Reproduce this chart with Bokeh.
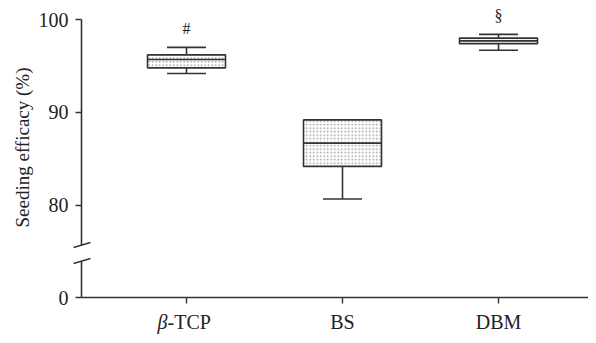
import math
from bokeh.plotting import figure
from bokeh.models import ColumnDataSource
from bokeh.core.properties import value
from bokeh.embed import file_html
from bokeh.resources import INLINE

# ---- data ----
categories = ["β-TCP", "BS", "DBM"]
lower_whisker = [94.2, 80.7, 96.7]
q1 = [94.8, 84.2, 97.4]
median = [95.7, 86.7, 97.7]
q3 = [96.2, 89.2, 98.0]
upper_whisker = [97.0, 89.2, 98.4]
annotations = ["#", "", "§"]
y_ticks = [80, 90, 100]
y_tick_labels = ["80", "90", "100"]
zero_label = "0"
y_title = "Seeding efficacy (%)"

# ---- layout (pixel geometry of the canvas) ----
W, H = 588, 335
AX_LEFT_PX, AX_BOTTOM_PX, TOP100_PX = 81, 297, 19
CAT_PX0, CAT_STEP = 186, 156
PX_PER_UNIT = (AX_BOTTOM_PX - TOP100_PX) / 29.9   # 100 -> 19px, broken "0" -> 297px
ZERO_POS = 100 - (AX_BOTTOM_PX - TOP100_PX) / PX_PER_UNIT


def dx(px):
    return (px - CAT_PX0) / CAT_STEP


def dy(px):
    return 100 - (px - TOP100_PX) / PX_PER_UNIT


FONT = "Liberation Serif"
INK = "#333333"
TXT = "#222222"
LW = 1.6

p = figure(width=W, height=H, output_backend="svg", toolbar_location=None,
           x_range=(dx(0), dx(W)), y_range=(dy(H), dy(0)),
           min_border_left=0, min_border_right=0, min_border_top=0, min_border_bottom=0)
p.outline_line_color = None
p.grid.visible = False
p.axis.visible = False
p.background_fill_color = "white"
p.border_fill_color = "white"

xs = list(range(len(categories)))
box_w = 0.5
cap_w = 0.25

src = ColumnDataSource(dict(
    x=xs, q1=q1, q3=q3, med=median, lo=lower_whisker, hi=upper_whisker,
    x0=[x - box_w / 2 for x in xs], x1=[x + box_w / 2 for x in xs],
    c0=[x - cap_w / 2 for x in xs], c1=[x + cap_w / 2 for x in xs],
))

# whiskers
p.segment(x0="x", y0="q3", x1="x", y1="hi", source=src, line_color=INK, line_width=LW)
p.segment(x0="x", y0="q1", x1="x", y1="lo", source=src, line_color=INK, line_width=LW)
p.segment(x0="c0", y0="hi", x1="c1", y1="hi", source=src, line_color=INK, line_width=LW)
p.segment(x0="c0", y0="lo", x1="c1", y1="lo", source=src, line_color=INK, line_width=LW)
# boxes
p.vbar(x="x", width=box_w, bottom="q1", top="q3", source=src,
       fill_color="white", line_color=INK, line_width=LW,
       hatch_pattern="dot", hatch_color="#9a9a9a", hatch_scale=3.5, hatch_weight=1)
p.segment(x0="x0", y0="med", x1="x1", y1="med", source=src, line_color=INK, line_width=LW)

# ---- x axis ----
xl = dx(AX_LEFT_PX)
p.segment(x0=[xl], y0=[ZERO_POS], x1=[dx(W)], y1=[ZERO_POS], line_color=INK, line_width=LW)
p.segment(x0=xs, y0=[ZERO_POS] * 3, x1=xs, y1=[dy(AX_BOTTOM_PX + 6)] * 3,
          line_color=INK, line_width=1.4)
label_y = dy(AX_BOTTOM_PX + 24)
plain_x, plain_t, greek_x, greek_t, rest_x, rest_t = [], [], [], [], [], []
for x, c in zip(xs, categories):
    if c.startswith("β"):
        split = x - 19 / CAT_STEP
        greek_x.append(split); greek_t.append(c[0])
        rest_x.append(split); rest_t.append(c[1:])
    else:
        plain_x.append(x); plain_t.append(c)
common = dict(text_baseline="middle", text_font=value(FONT), text_font_size="20px", text_color=TXT)
p.text(x=plain_x, y=[label_y] * len(plain_x), text=plain_t, text_align="center", **common)
p.text(x=greek_x, y=[label_y] * len(greek_x), text=greek_t, text_align="right",
       text_font_style="italic", **common)
p.text(x=rest_x, y=[label_y] * len(rest_x), text=rest_t, text_align="left", **common)

# ---- broken y axis ----
BREAK_TOP = dy(245)
BREAK_BOT = dy(261)
p.segment(x0=[xl, xl], y0=[100, BREAK_BOT], x1=[xl, xl], y1=[BREAK_TOP, ZERO_POS],
          line_color=INK, line_width=LW)
p.segment(x0=[dx(73), dx(73)], y0=[dy(247), dy(263)], x1=[dx(90), dx(90)], y1=[dy(242), dy(258)],
          line_color=INK, line_width=LW)
ytick_pos = [ZERO_POS] + y_ticks
ytick_txt = [zero_label] + y_tick_labels
p.segment(x0=[dx(AX_LEFT_PX - 6)] * 4, y0=ytick_pos, x1=[xl] * 4, y1=ytick_pos,
          line_color=INK, line_width=1.4)
p.text(x=[dx(AX_LEFT_PX - 13)] * 4, y=ytick_pos, text=ytick_txt, text_align="right",
       text_baseline="middle", text_font=value(FONT), text_font_size="20px", text_color=TXT)

# y title
p.text(x=[dx(22)], y=[dy(147)], text=[y_title], angle=math.pi / 2, text_align="center",
       text_baseline="middle", text_font=value(FONT), text_font_size="19px", text_color=TXT)

# significance marks
mark_x = [x for x, a in zip(xs, annotations) if a]
mark_t = [a for a in annotations if a]
mark_y = [dy(28), dy(15)]
p.text(x=mark_x, y=mark_y, text=mark_t, text_align="center", text_baseline="middle",
       text_font=value(FONT), text_font_size="16px", text_color=TXT)

open("out.html", "w").write(file_html(p, INLINE))
